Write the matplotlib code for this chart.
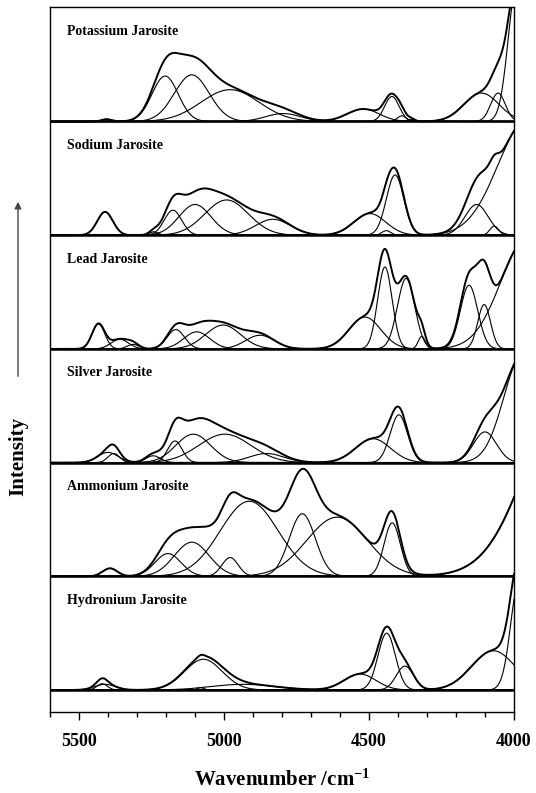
import numpy as np
import matplotlib
matplotlib.use("Agg")
import matplotlib.pyplot as plt
from matplotlib.ticker import MultipleLocator

plt.rcParams['font.family'] = ['Liberation Serif', 'DejaVu Serif']
plt.rcParams['font.weight'] = 'bold'
plt.rcParams['mathtext.fontset'] = 'custom'
plt.rcParams['mathtext.rm'] = 'Liberation Serif:bold'
plt.rcParams['mathtext.default'] = 'rm'

# fitted band components
# centre (cm-1), height (fraction of panel), sigma (cm-1)
k_centres = [5404, 5203, 5111, 4979, 4796, 4520, 4421, 4387, 4353, 4112, 4055, 3990]
k_heights = [0.02, 0.40, 0.41, 0.28, 0.07, 0.11, 0.22, 0.05, 0.02, 0.25, 0.25, 1.2]
k_sigmas = [18, 45, 60, 100, 60, 55, 25, 15, 12, 60, 25, 30]

na_centres = [5410, 5242, 5176, 5100, 4991, 4831, 4497, 4440, 4410, 4129, 4068, 3950]
na_heights = [0.205, 0.03, 0.22, 0.27, 0.31, 0.14, 0.19, 0.04, 0.53, 0.27, 0.08, 1.03]
na_sigmas = [27, 15, 30, 55, 75, 60, 55, 15, 30, 40, 15, 104]

pb_centres = [5433, 5359, 5313, 5166, 5094, 5003, 4876, 4514, 4445, 4372, 4318, 4155, 4103, 3950]
pb_heights = [0.22, 0.085, 0.04, 0.17, 0.15, 0.21, 0.12, 0.28, 0.72, 0.62, 0.11, 0.56, 0.39, 0.99]
pb_sigmas = [22, 30, 20, 30, 45, 60, 50, 55, 25, 30, 12, 30, 22, 94]

ag_centres = [5400, 5380, 5244, 5169, 5106, 4997, 4853, 4486, 4397, 4100, 3970]
ag_heights = [0.09, 0.08, 0.06, 0.19, 0.25, 0.25, 0.08, 0.21, 0.42, 0.27, 0.95]
ag_sigmas = [35, 20, 25, 25, 60, 90, 60, 60, 30, 40, 65]

nh4_centres = [5393, 5193, 5111, 4979, 4913, 4730, 4610, 4420, 3800]
nh4_heights = [0.07, 0.20, 0.30, 0.165, 0.66, 0.55, 0.52, 0.47, 1.69]
nh4_sigmas = [25, 45, 60, 28, 100, 45, 105, 28, 150]

h3o_centres = [5420, 5410, 5080, 5071, 4934, 4531, 4439, 4376, 4071, 3980]
h3o_heights = [0.055, 0.05, 0.02, 0.27, 0.05, 0.14, 0.50, 0.21, 0.345, 1.0]
h3o_sigmas = [18, 35, 12, 65, 110, 55, 30, 30, 75, 30]

names = ['Potassium Jarosite', 'Sodium Jarosite', 'Lead Jarosite',
         'Silver Jarosite', 'Ammonium Jarosite', 'Hydronium Jarosite']
bands = [(k_centres, k_heights, k_sigmas),
         (na_centres, na_heights, na_sigmas),
         (pb_centres, pb_heights, pb_sigmas),
         (ag_centres, ag_heights, ag_sigmas),
         (nh4_centres, nh4_heights, nh4_sigmas),
         (h3o_centres, h3o_heights, h3o_sigmas)]

wn = np.linspace(4000, 5600, 1601)

fig = plt.figure(figsize=(5.36, 7.93), dpi=100)
ax = fig.add_axes([50/536, 81/793, 464/536, 705/793])

n = len(names)
for i in range(n):
    offset = n - 1 - i
    centres, heights, sigmas = bands[i]
    total = np.zeros_like(wn)
    for c, h, s in zip(centres, heights, sigmas):
        comp = h * np.exp(-0.5 * ((wn - c) / s) ** 2)
        total += comp
        ax.plot(wn, comp + offset, color='black', lw=0.8)
    ax.plot(wn, total + offset, color='black', lw=1.4)
    ax.axhline(offset, color='black', lw=1.8, zorder=5)
    ax.text(0.037, offset + 0.79, names[i], transform=ax.get_yaxis_transform(),
            fontsize=10, fontweight='bold', va='center', ha='left')

ax.set_xlim(5600, 4000)
ax.set_ylim(-0.1935, 6.007)
ax.set_yticks([])
ax.xaxis.set_major_locator(MultipleLocator(500))
ax.xaxis.set_minor_locator(MultipleLocator(100))
ax.tick_params(axis='x', which='major', length=6, width=1, labelsize=13, pad=9)
ax.tick_params(axis='x', which='minor', length=3.5, width=1)
for lab in ax.get_xticklabels():
    lab.set_fontweight('bold')
for sp in ax.spines.values():
    sp.set_linewidth(1.0)

ax.set_xlabel(r'Wavenumber /cm$^{-1}$', fontsize=15, fontweight='bold', labelpad=14)

fig.text(18/536, 1 - 456/793, 'Intensity', rotation=90, fontsize=15,
         fontweight='bold', ha='center', va='center')
ax.annotate('', xy=(18/536, 1 - 199/793), xytext=(18/536, 1 - 379/793),
            xycoords='figure fraction', textcoords='figure fraction',
            arrowprops=dict(arrowstyle='-|>', color='#444444', lw=1,
                            mutation_scale=10),
            annotation_clip=False)

fig.savefig('out.png', dpi=100)
